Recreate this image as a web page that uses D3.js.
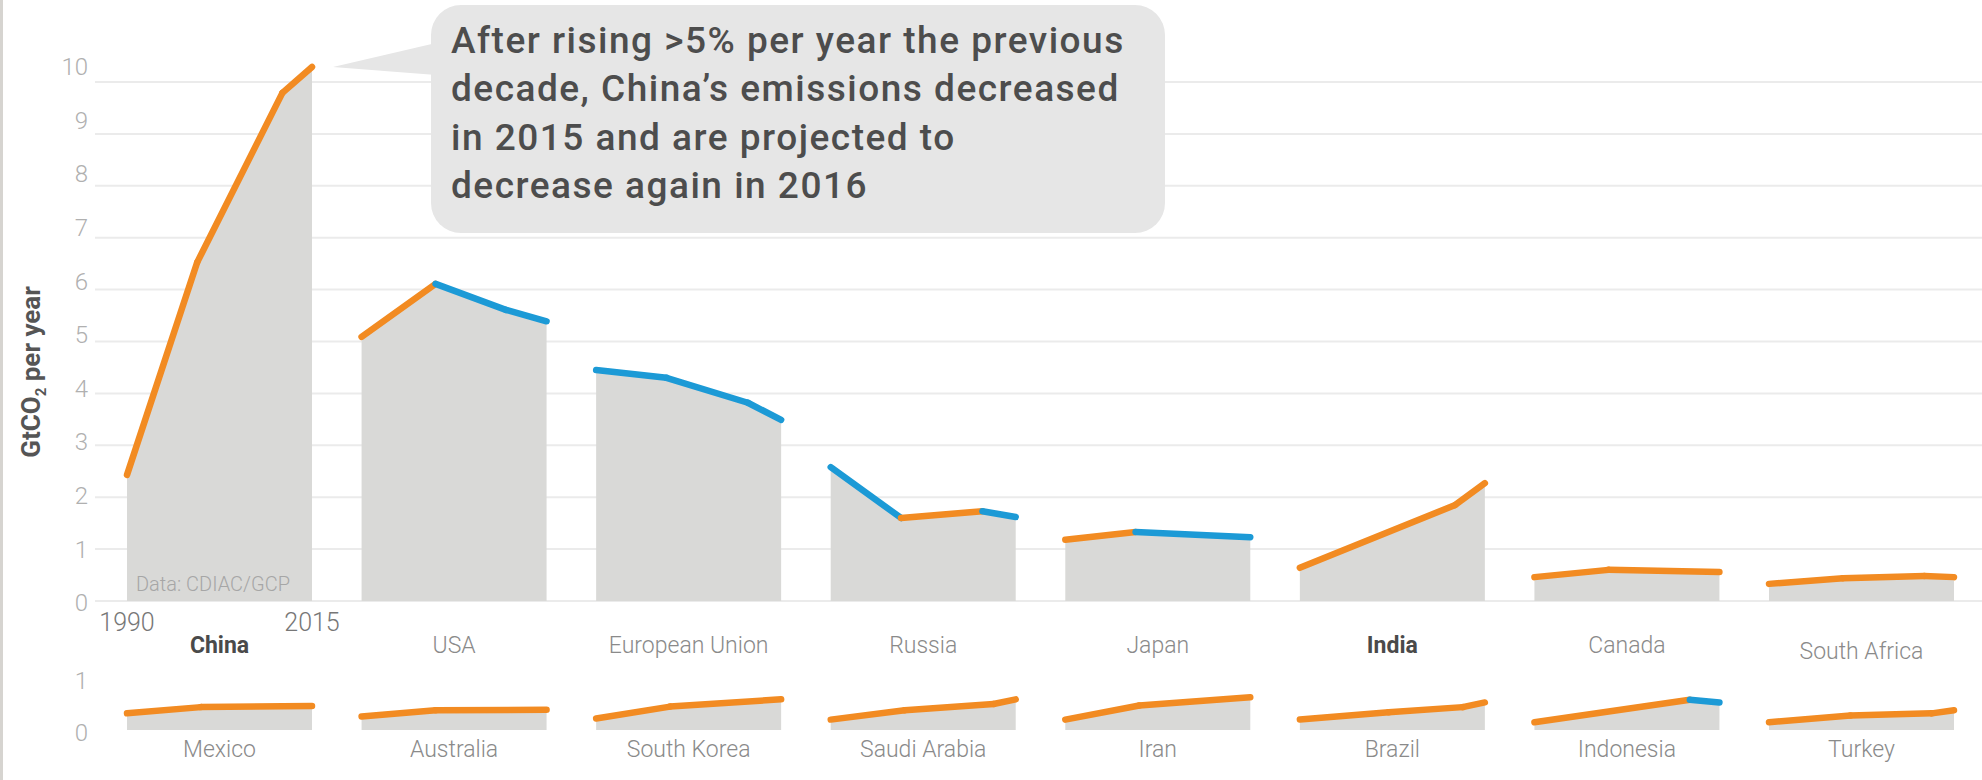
<!DOCTYPE html>
<html>
<head>
<meta charset="utf-8">
<script src="https://cdn.jsdelivr.net/npm/d3@7"></script>
<style>
  body { margin: 0; background: #fff; }
  svg { display: block; font-family: Roboto, "Open Sans", sans-serif; }
</style>
</head>
<body>
<div id="chart-area"></div>
<script>
const WIDTH = 1982
const HEIGHT = 780
const PANEL_W = 185

// top row: large emitters, y axis 0-10 GtCO2
const topCountries = ["China", "USA", "European Union", "Russia", "Japan", "India", "Canada", "South Africa"]
const topYears = [
  [1990, 1999.5, 2011, 2015],
  [1990, 2000, 2009.5, 2015],
  [1990, 1999.5, 2010.5, 2015],
  [1990, 1999.5, 2010.5, 2015],
  [1990, 1999.5, 2015],
  [1990, 2011, 2015],
  [1990, 2000, 2015],
  [1990, 2000, 2011, 2015]
]
const topValues = [
  [2.43, 6.53, 9.79, 10.29],
  [5.09, 6.11, 5.61, 5.39],
  [4.45, 4.30, 3.82, 3.49],
  [2.58, 1.60, 1.73, 1.62],
  [1.18, 1.33, 1.23],
  [0.64, 1.85, 2.27],
  [0.46, 0.60, 0.56],
  [0.33, 0.44, 0.48, 0.46]
]
// trend of each segment between two points
const topTrends = [
  ["up", "up", "up"],
  ["up", "down", "down"],
  ["down", "down", "down"],
  ["down", "up", "down"],
  ["up", "down"],
  ["up", "up"],
  ["up", "up"],
  ["up", "up", "up"]
]

// bottom row: smaller emitters, y axis 0-1
const bottomCountries = ["Mexico", "Australia", "South Korea", "Saudi Arabia", "Iran", "Brazil", "Indonesia", "Turkey"]
const bottomYears = [
  [1990, 2000, 2015],
  [1990, 2000, 2015],
  [1990, 2000, 2015],
  [1990, 2000, 2012, 2015],
  [1990, 2000, 2015],
  [1990, 2002, 2012, 2015],
  [1990, 2011, 2015],
  [1990, 2001, 2012, 2015]
]
const bottomValues = [
  [0.32, 0.44, 0.46],
  [0.26, 0.38, 0.39],
  [0.22, 0.45, 0.59],
  [0.20, 0.38, 0.50, 0.59],
  [0.20, 0.47, 0.63],
  [0.20, 0.34, 0.44, 0.53],
  [0.15, 0.58, 0.53],
  [0.15, 0.28, 0.32, 0.38]
]
const bottomTrends = [
  ["up", "up"],
  ["up", "up"],
  ["up", "up"],
  ["up", "up", "up"],
  ["up", "up"],
  ["up", "up", "up"],
  ["up", "down"],
  ["up", "up", "up"]
]

const boldCountries = ["China", "India"]
const topTicks = [0, 1, 2, 3, 4, 5, 6, 7, 8, 9, 10]
const bottomTicks = [0, 1]
const yearLabels = [1990, 2015]
const noteLines = [
  "After rising >5% per year the previous",
  "decade, China\u2019s emissions decreased",
  "in 2015 and are projected to",
  "decrease again in 2016"
]

const COLORS = { up: "#f28b22", down: "#1c9ad6" }

const col = d3.scaleLinear().domain([0, 7]).range([127, 1769])
const year = d3.scaleLinear().domain([1990, 2015]).range([0, PANEL_W])
const yTop = d3.scaleLinear().domain([0, 10]).range([601, 82])
const yTopLabel = d3.scaleLinear().domain([0, 10]).range([603, 67])
const yBottom = d3.scaleLinear().domain([0, 1]).range([730, 678])

const svg = d3.select("#chart-area").append("svg")
  .attr("width", WIDTH)
  .attr("height", HEIGHT)

svg.append("rect")
  .attr("x", 0).attr("y", 0)
  .attr("width", 3).attr("height", HEIGHT)
  .attr("fill", "#d6d4d0")

// grid
svg.append("g")
  .selectAll("line")
  .data(topTicks)
  .join("line")
    .attr("x1", 95)
    .attr("x2", WIDTH)
    .attr("y1", d => yTop(d))
    .attr("y2", d => yTop(d))
    .attr("stroke", "#ebebeb")
    .attr("stroke-width", 2)

function drawRow(countries, years, values, trends, y) {
  const area = d3.area()
    .x(d => year(d[0]))
    .y0(y(0))
    .y1(d => y(d[1]))
  const line = d3.line()
    .x(d => year(d[0]))
    .y(d => y(d[1]))

  countries.forEach((name, i) => {
    const pts = years[i].map((yr, j) => [yr, values[i][j]])
    const g = svg.append("g").attr("transform", `translate(${col(i)},0)`)

    g.append("path")
      .attr("fill", "#d9d9d7")
      .attr("d", area(pts))

    g.selectAll(".seg")
      .data(d3.range(pts.length - 1))
      .join("path")
        .attr("class", "seg")
        .attr("fill", "none")
        .attr("stroke", j => COLORS[trends[i][j]])
        .attr("stroke-width", 6.5)
        .attr("stroke-linecap", "round")
        .attr("d", j => line([pts[j], pts[j + 1]]))
  })
}

drawRow(topCountries, topYears, topValues, topTrends, yTop)
drawRow(bottomCountries, bottomYears, bottomValues, bottomTrends, yBottom)

// y axes
const tickStyle = g => g
  .call(g => g.select(".domain").remove())
  .call(g => g.selectAll("text")
    .attr("fill", "#b0b0b0")
    .attr("font-size", 24)
    .attr("font-weight", 300)
    .attr("font-family", "Roboto"))

svg.append("g")
  .attr("transform", "translate(88,0)")
  .call(d3.axisLeft(yTopLabel).tickValues(topTicks).tickFormat(d3.format("d")).tickSize(0).tickPadding(0))
  .call(tickStyle)

svg.append("g")
  .attr("transform", "translate(88,3)")
  .call(d3.axisLeft(yBottom).tickValues(bottomTicks).tickFormat(d3.format("d")).tickSize(0).tickPadding(0))
  .call(tickStyle)

svg.append("text")
  .attr("transform", "translate(40,372) rotate(-90)")
  .attr("text-anchor", "middle")
  .attr("font-size", 26)
  .attr("font-weight", 700)
  .attr("fill", "#555")
  .call(t => t.append("tspan").text("GtCO"))
  .call(t => t.append("tspan").attr("font-size", 15).attr("dy", 6).text("2"))
  .call(t => t.append("tspan").attr("dy", -6).text(" per year"))

// country labels
const labelStyle = s => s
  .attr("text-anchor", "middle")
  .attr("font-size", 23)
  .attr("font-weight", d => boldCountries.includes(d) ? 700 : 300)
  .attr("fill", d => boldCountries.includes(d) ? "#4a4a4a" : "#8a8a8a")
  .text(d => d)

svg.append("g")
  .selectAll("text")
  .data(topCountries)
  .join("text")
    .attr("x", (d, i) => col(i) + PANEL_W / 2)
    .attr("y", d => d === "South Africa" ? 659 : 653)
    .call(labelStyle)

svg.append("g")
  .selectAll("text")
  .data(bottomCountries)
  .join("text")
    .attr("x", (d, i) => col(i) + PANEL_W / 2)
    .attr("y", 757)
    .call(labelStyle)

// year labels under China
svg.append("g")
  .selectAll("text")
  .data(yearLabels)
  .join("text")
    .attr("x", d => col(0) + year(d))
    .attr("y", 631)
    .attr("text-anchor", "middle")
    .attr("font-size", 25)
    .attr("font-weight", 300)
    .attr("fill", "#777")
    .text(d => d)

svg.append("text")
  .attr("x", 136)
  .attr("y", 591)
  .attr("font-size", 20)
  .attr("font-weight", 300)
  .attr("fill", "#a6a6a6")
  .text("Data: CDIAC/GCP")

// callout
const note = svg.append("g")
note.append("path")
  .attr("d", "M333,67 L436,43 L436,75 Z")
  .attr("fill", "#e6e6e6")
note.append("rect")
  .attr("x", 431).attr("y", 5)
  .attr("width", 734).attr("height", 228)
  .attr("rx", 30)
  .attr("fill", "#e6e6e6")
note.selectAll("text")
  .data(noteLines)
  .join("text")
    .attr("x", 451)
    .attr("y", (d, i) => 53 + i * 48.4)
    .attr("font-size", 37)
    .attr("font-weight", 500)
    .attr("letter-spacing", 1.5)
    .attr("fill", "#4d4d4d")
    .text(d => d)
</script>
</body>
</html>
